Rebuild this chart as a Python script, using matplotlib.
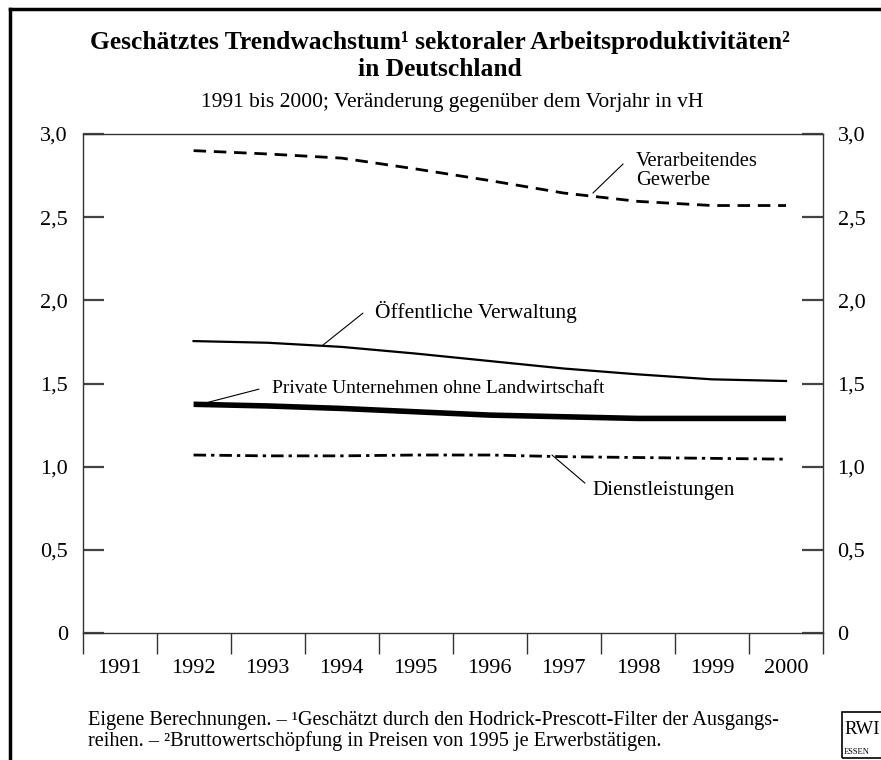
import matplotlib
matplotlib.use("Agg")
import matplotlib.pyplot as plt
from matplotlib.patches import Rectangle
from matplotlib.lines import Line2D

plt.rcParams['font.family'] = ['Liberation Serif', 'DejaVu Serif']

W, H = 881, 760

years = ["1991", "1992", "1993", "1994", "1995", "1996", "1997", "1998", "1999", "2000"]
# series start in 1992
series_years = years[1:]
verarbeitendes = [2.90, 2.88, 2.855, 2.79, 2.72, 2.645, 2.595, 2.57, 2.57]
oeffentlich = [1.755, 1.745, 1.72, 1.68, 1.635, 1.59, 1.555, 1.525, 1.515]
private = [1.375, 1.365, 1.35, 1.33, 1.31, 1.30, 1.29, 1.29, 1.29]
dienst = [1.07, 1.065, 1.065, 1.07, 1.07, 1.06, 1.055, 1.05, 1.045]
yticks = [0, 0.5, 1.0, 1.5, 2.0, 2.5, 3.0]
ytick_labels = ["0", "0,5", "1,0", "1,5", "2,0", "2,5", "3,0"]


def fx(px):
    return px / W


def fy(py):
    return 1 - py / H


fig = plt.figure(figsize=(W / 100, H / 100), dpi=100)
ax = fig.add_axes([fx(82.5), fy(633), fx(823) - fx(82.5), fy(134) - fy(633)])

xpos = list(range(len(years)))
sx = [years.index(y) for y in series_years]

ax.plot(sx, verarbeitendes, color="black", lw=2.0, ls=(0, (4.5, 2.8)))
ax.plot(sx, oeffentlich, color="black", lw=1.6)
ax.plot(sx, private, color="black", lw=4.0, solid_capstyle="butt")
ax.plot(sx, dienst, color="black", lw=2.0, ls=(0, (4.5, 1.8, 1.2, 1.8)))

ax.set_xlim(-0.5, len(years) - 0.5)
ax.set_ylim(0, 3.0)

# category boundaries as major ticks, labels centred as minor ticks
ax.set_xticks([i - 0.5 for i in range(len(years) + 1)])
ax.set_xticklabels([])
ax.set_xticks(xpos, minor=True)
ax.set_xticklabels(years, minor=True, fontsize=16)
ax.tick_params(axis="x", which="major", direction="out", length=15, width=1, color="#333333")
ax.tick_params(axis="x", which="minor", length=0, pad=19)

ax.set_yticks(yticks)
ax.set_yticklabels(ytick_labels, fontsize=16)
ax.tick_params(axis="y", direction="in", length=15, width=1.6, color="#444444",
               left=True, right=True, labelleft=True, labelright=True, pad=10.5)
for s in ax.spines.values():
    s.set_color("#333333")
    s.set_linewidth(1.0)

# labels with leader lines
leader = dict(arrowstyle="-", lw=0.8, color="black", shrinkA=0, shrinkB=0)
ax.annotate("", xy=(6.393, 2.645), xytext=(6.80, 2.82), arrowprops=leader)
ax.text(6.975, 2.775, "Verarbeitendes\nGewerbe", fontsize=14.8, va="center", ha="left",
        linespacing=1.0)
ax.annotate("", xy=(2.747, 1.731), xytext=(3.287, 1.923), arrowprops=leader)
ax.text(3.45, 1.929, "Öffentliche Verwaltung", fontsize=15.5, va="center", ha="left")
ax.annotate("", xy=(1.154, 1.382), xytext=(1.883, 1.466), arrowprops=leader)
ax.text(2.059, 1.472, "Private Unternehmen ohne Landwirtschaft", fontsize=14,
        va="center", ha="left")
ax.annotate("", xy=(5.84, 1.07), xytext=(6.286, 0.901), arrowprops=leader)
ax.text(6.381, 0.859, "Dienstleistungen", fontsize=15.2, va="center", ha="left")

# titles
fig.text(fx(440), fy(42), "Geschätztes Trendwachstum¹ sektoraler Arbeitsproduktivitäten²",
         ha="center", va="center", fontsize=18.4, fontweight="bold")
fig.text(fx(440), fy(70), "in Deutschland", ha="center", va="center",
         fontsize=18.4, fontweight="bold")
fig.text(fx(452), fy(103), "1991 bis 2000; Veränderung gegenüber dem Vorjahr in vH",
         ha="center", va="center", fontsize=15.5)

# footnote
fig.text(fx(88), fy(721), "Eigene Berechnungen. – ¹Geschätzt durch den Hodrick-Prescott-Filter der Ausgangs-",
         ha="left", va="center", fontsize=14.6)
fig.text(fx(88), fy(741), "reihen. – ²Bruttowertschöpfung in Preisen von 1995 je Erwerbstätigen.",
         ha="left", va="center", fontsize=14.6)

# RWI logo box (cut at right edge)
fig.patches.append(Rectangle((fx(842), fy(758)), fx(60), fy(712) - fy(758), transform=fig.transFigure,
                             fill=False, lw=1.2, edgecolor="black"))
fig.text(fx(844), fy(730), "RWI", ha="left", va="center", fontsize=13.5)
fig.text(fx(844), fy(752), "ESSEN", ha="left", va="center", fontsize=6)

# figure frame (left and top edges)
fig.add_artist(Line2D([fx(10), fx(10)], [fy(9), 0], transform=fig.transFigure, color="black", lw=2.5))
fig.add_artist(Line2D([fx(10), 1], [fy(9), fy(9)], transform=fig.transFigure, color="black", lw=2.5))

fig.savefig("out.png", dpi=100)
